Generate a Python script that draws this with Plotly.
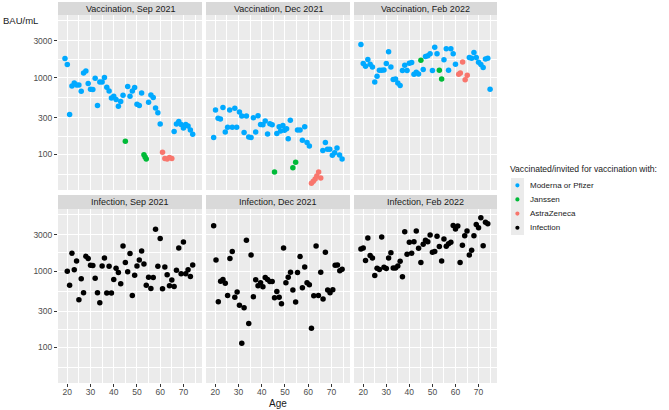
import math
import plotly.graph_objects as go

W, H = 669, 410

# ---------------- data ----------------
panel_titles = ["Vaccination, Sep 2021", "Vaccination, Dec 2021", "Vaccination, Feb 2022",
                "Infection, Sep 2021", "Infection, Dec 2021", "Infection, Feb 2022"]
group_names = ["Moderna or Pfizer", "Janssen", "AstraZeneca", "Infection"]
group_colors = ["#00A9FF", "#00BA38", "#F8766D", "#000000"]
x_ticks = [20, 30, 40, 50, 60, 70]
y_ticks = [100, 300, 1000, 3000]
y_tick_labels = ["100", "300", "1000", "3000"]

# Vaccination, Sep 2021
vs_mp_age = [19, 20, 21, 22, 23, 24, 25, 26, 27, 28, 29, 30, 31, 32, 33, 34, 35, 36, 37, 38, 39, 40, 41, 42, 43,
             44, 46, 47, 48, 49, 50, 51, 52, 55, 56, 57, 58, 59, 60, 66, 67, 68, 69, 70, 71, 72, 73, 74]
vs_mp_bau = [1770, 1480, 329, 778, 852, 802, 800, 663, 1150, 1220, 835, 704, 700, 980, 432, 878, 878, 1000, 748,
             670, 543, 571, 517, 423, 486, 589, 764, 571, 670, 741, 449, 432, 631, 477, 594, 548, 402, 349, 249,
             198, 249, 267, 245, 220, 244, 234, 208, 182]
vs_ja_age = [45, 53, 53.5, 54]
vs_ja_bau = [148, 99, 92, 87]
vs_az_age = [61, 62, 63, 64, 65]
vs_az_bau = [106, 88, 87, 91, 88]

# Vaccination, Dec 2021
vd_mp_age = [19.3, 20.1, 21.2, 22.2, 23.3, 24.3, 25.3, 26.2, 27.3, 28.4, 29.2, 30.4, 31.4, 32.4, 33.4, 34.4, 35.4,
             36.4, 37.4, 38.4, 39.5, 40.5, 41.5, 42.5, 43.5, 44.5, 46.5, 47.5, 48.1, 49.1, 49.8, 50.7, 51.4, 52.3,
             55.4, 56.5, 57.5, 58.5, 59.5, 60.5, 66.3, 67.4, 68.3, 69.3, 70.4, 71.4, 72.4, 73.5, 74.6]
vd_mp_bau = [165, 378, 295, 289, 406, 195, 225, 378, 225, 398, 225, 357, 316, 192, 316, 168, 165, 300, 195, 319,
             244, 242, 272, 184, 251, 242, 186, 228, 201, 237, 206, 216, 160, 277, 208, 208, 152, 228, 142, 128,
             112, 143, 116, 116, 97, 105, 121, 98, 87]
vd_ja_age = [45.5, 53.4, 54.6]
vd_ja_bau = [59, 67, 79]
vd_az_age = [61.4, 62.2, 63.0, 63.7, 64.5, 65.4]
vd_az_bau = [42, 44.5, 47.6, 52, 59, 49]

# Vaccination, Feb 2022
vf_mp_age = [19, 20, 21, 22, 23, 24, 25, 26, 27, 28, 29, 30, 31, 32, 33, 34, 35, 36, 37, 38, 39, 40, 41, 42, 43,
             44, 46, 47, 48, 49, 50, 51, 52, 55, 56, 57, 58, 59, 60, 66, 67, 68, 69, 70, 71, 72, 73, 74, 75]
vf_mp_bau = [2700, 1523, 1405, 1718, 1493, 1377, 878, 1041, 1246, 1246, 1259, 1523, 2163, 1377, 942, 960, 852,
             787, 1234, 1448, 1234, 1538, 1570, 1105, 1174, 1115, 1271, 1880, 1918, 2037, 1234, 2489, 2046, 1700,
             2366, 1246, 2366, 2037, 1493, 1823, 1787, 2118, 1823, 1585, 1478, 1350, 1750, 1787, 705]
vf_ja_age = [45, 53, 54]
vf_ja_bau = [1683, 1246, 960]
vf_az_age = [61.4, 62.1, 63.1, 64.2, 65.1]
vf_az_bau = [1105, 1150, 1600, 933, 1072]

# Infection, Sep 2021
is_age = [20, 21, 22, 23, 24, 25, 26, 27, 28, 29, 30, 31, 32, 33, 34, 35, 36, 37, 38, 39, 40, 41, 42, 43, 44,
          45, 46, 47, 48, 49, 50, 51, 52, 53, 54, 55, 56, 57, 58, 59, 60, 61, 62, 63, 64, 65, 66, 67, 68, 69,
          70, 71, 72, 73, 74]
is_bau = [1000, 656, 1716, 1041, 1364, 423, 794, 521, 1570, 1463, 1197, 1186, 811, 521, 386, 1174, 1493, 517,
          1162, 517, 778, 1094, 961, 684, 2140, 1297, 980, 1700, 482, 887, 1174, 1405, 1843, 1246, 656, 835, 594,
          826, 3532, 1162, 2692, 588, 1139, 896, 644, 764, 631, 1030, 2015, 923, 2416, 923, 1041, 852, 1209]

# Infection, Dec 2021
id_age = [19.3, 20.3, 21.3, 22.3, 23.3, 24.3, 25.3, 26.3, 27.3, 28.4, 29.4, 30.4, 31.4, 32.4, 33.4, 34.4, 35.4,
          36.4, 37.4, 38.4, 39.5, 40.5, 41.5, 42.5, 43.5, 44.5, 45.5, 46.5, 47.5, 48.5, 49.4, 50.4, 51.4, 52.4,
          53.4, 54.6, 55.4, 56.5, 57.5, 58.5, 59.5, 60.5, 61.4, 62.4, 63.4, 64.4, 65.4, 66.4, 67.4, 68.4, 69.4,
          70.6, 71.6, 72.6, 73.6, 74.6]
id_bau = [3946, 1405, 398, 741, 778, 697, 482, 1463, 1806, 454, 532, 357, 114, 333, 2535, 206, 1632, 462, 770,
          644, 705, 625, 827, 778, 733, 733, 449, 543, 454, 375, 2014, 705, 835, 970, 565, 395, 961, 1553, 607,
          1139, 705, 664, 179, 477, 2138, 482, 970, 432, 1770, 565, 521, 570, 1197, 1209, 1010, 1062]

# Infection, Feb 2022
if_age = [19, 20, 21, 22, 23, 24, 25, 26, 27, 28, 29, 30, 31, 32, 33, 34, 35, 36, 37, 38, 39, 40, 41, 42, 43,
          44, 45, 46, 47, 48, 49, 50, 51, 52, 53, 54, 55, 56, 57, 58, 59, 60, 61, 62, 63, 64, 65, 66, 67, 68,
          69, 70, 71, 72, 73, 74]
if_bau = [1955, 2014, 1377, 2725, 1600, 1493, 878, 1094, 1051, 2806, 1128, 1083, 1493, 1751, 1105, 1105, 1174,
          1350, 843, 3290, 1667, 2389, 1718, 2437, 3356, 1996, 1297, 2249, 2535, 2437, 2979, 1770, 1806, 2864,
          2099, 1364, 2642, 2118, 2295, 2389, 3981, 3567, 3900, 1297, 2182, 2919, 3356, 1632, 1880, 2919, 4100,
          3715, 5012, 2162, 4394, 4188]

panels = [
    [(0, vs_mp_age, vs_mp_bau), (1, vs_ja_age, vs_ja_bau), (2, vs_az_age, vs_az_bau)],
    [(0, vd_mp_age, vd_mp_bau), (1, vd_ja_age, vd_ja_bau), (2, vd_az_age, vd_az_bau)],
    [(0, vf_mp_age, vf_mp_bau), (1, vf_ja_age, vf_ja_bau), (2, vf_az_age, vf_az_bau)],
    [(3, is_age, is_bau)],
    [(3, id_age, id_bau)],
    [(3, if_age, if_bau)],
]

# ---------------- layout geometry (pixels) ----------------
col_px = [(58, 202), (206, 350), (354, 497)]
row_px = [(15, 190), (209, 383)]          # plot areas (top, bottom) in px from top
strip_px = [(2, 15), (195, 209)]

def px_x(v):
    return v / W

def px_y(v):
    return 1 - v / H

FONT = "Liberation Sans, Arial, sans-serif"
fig = go.Figure()

y_minor = [10 ** ((math.log10(a) + math.log10(b)) / 2) for a, b in
           [(30, 100), (100, 300), (300, 1000), (1000, 3000), (3000, 10000)]]

layout = dict(
    width=W, height=H,
    margin=dict(l=0, r=0, t=0, b=0),
    paper_bgcolor="white",
    plot_bgcolor="#EBEBEB",
    showlegend=False,
    font=dict(family=FONT, size=9, color="#1A1A1A"),
)
shapes = []
annotations = []

for i in range(6):
    r, c = divmod(i, 3)
    suffix = "" if i == 0 else str(i + 1)
    xa, ya = "xaxis" + suffix, "yaxis" + suffix
    xr, yr = "x" + suffix, "y" + suffix
    layout[xa] = dict(
        domain=[px_x(col_px[c][0]), px_x(col_px[c][1])],
        anchor=yr, range=[16, 78],
        tickmode="array", tickvals=x_ticks,
        showticklabels=(r == 1), ticks="outside" if r == 1 else "",
        ticklen=3, tickwidth=1, tickcolor="#333333", ticklabelstandoff=-2,
        tickfont=dict(size=8.5, color="#4D4D4D", family=FONT),
        showgrid=True, gridcolor="white", gridwidth=1,
        minor=dict(tickmode="array", tickvals=[15, 25, 35, 45, 55, 65, 75],
                   showgrid=True, gridcolor="white", gridwidth=0.5),
        zeroline=False, showline=False, fixedrange=True,
    )
    layout[ya] = dict(
        domain=[px_y(row_px[r][1]), px_y(row_px[r][0])],
        anchor=xr, type="log", range=[1.535, 3.815],
        tickmode="array", tickvals=y_ticks, ticktext=y_tick_labels,
        showticklabels=(c == 0), ticks="outside" if c == 0 else "",
        ticklen=3, tickwidth=1, tickcolor="#333333",
        tickfont=dict(size=8.5, color="#4D4D4D", family=FONT),
        showgrid=True, gridcolor="white", gridwidth=1,
        minor=dict(tickmode="array", tickvals=y_minor,
                   showgrid=True, gridcolor="white", gridwidth=0.5),
        zeroline=False, showline=False, fixedrange=True,
    )
    for g, ages, vals in panels[i]:
        fig.add_trace(go.Scatter(
            x=ages, y=vals, mode="markers", xaxis=xr, yaxis=yr,
            name=group_names[g],
            marker=dict(color=group_colors[g], size=5.5, line=dict(width=0)),
            hovertemplate="Age %{x}<br>%{y} BAU/mL<extra>" + group_names[g] + "</extra>",
        ))
    # strip
    shapes.append(dict(type="rect", xref="paper", yref="paper",
                       x0=px_x(col_px[c][0]), x1=px_x(col_px[c][1]),
                       y0=px_y(strip_px[r][1]), y1=px_y(strip_px[r][0]),
                       fillcolor="#D9D9D9", line=dict(width=0), layer="below"))
    annotations.append(dict(text=panel_titles[i], xref="paper", yref="paper",
                            x=px_x((col_px[c][0] + col_px[c][1]) / 2),
                            y=px_y((strip_px[r][0] + strip_px[r][1]) / 2),
                            xanchor="center", yanchor="middle", showarrow=False,
                            font=dict(size=9, color="#1A1A1A", family=FONT)))

# axis titles
annotations.append(dict(text="BAU/mL", xref="paper", yref="paper", x=px_x(1), y=px_y(20),
                        xanchor="left", yanchor="middle", showarrow=False,
                        font=dict(size=9.5, color="#1A1A1A", family=FONT)))
annotations.append(dict(text="Age", xref="paper", yref="paper", x=px_x(277.5), y=px_y(403),
                        xanchor="center", yanchor="middle", showarrow=False,
                        font=dict(size=10, color="#1A1A1A", family=FONT)))

# legend (drawn manually to match ggplot key spacing)
annotations.append(dict(text="Vaccinated/invited for vaccination with:", xref="paper", yref="paper",
                        x=px_x(508), y=px_y(169), xanchor="left", yanchor="middle", showarrow=False,
                        font=dict(size=8.6, color="#1A1A1A", family=FONT)))
shapes.append(dict(type="rect", xref="paper", yref="paper", x0=px_x(511), x1=px_x(524),
                   y0=px_y(235), y1=px_y(178), fillcolor="#EBEBEB", line=dict(width=0)))
for k, name in enumerate(group_names):
    cy = 185.3 + k * 14.15
    shapes.append(dict(type="circle", xref="paper", yref="paper",
                       x0=px_x(515.3), x1=px_x(519.5), y0=px_y(cy + 2.1), y1=px_y(cy - 2.1),
                       fillcolor=group_colors[k], line=dict(width=0)))
    annotations.append(dict(text=name, xref="paper", yref="paper", x=px_x(528), y=px_y(cy),
                            xanchor="left", yanchor="middle", showarrow=False,
                            font=dict(size=8, color="#1A1A1A", family=FONT)))

layout["shapes"] = shapes
layout["annotations"] = annotations
fig.update_layout(**layout)
fig.write_html("out.html", config={"displayModeBar": False},
               post_script="document.body.style.margin='0';")
